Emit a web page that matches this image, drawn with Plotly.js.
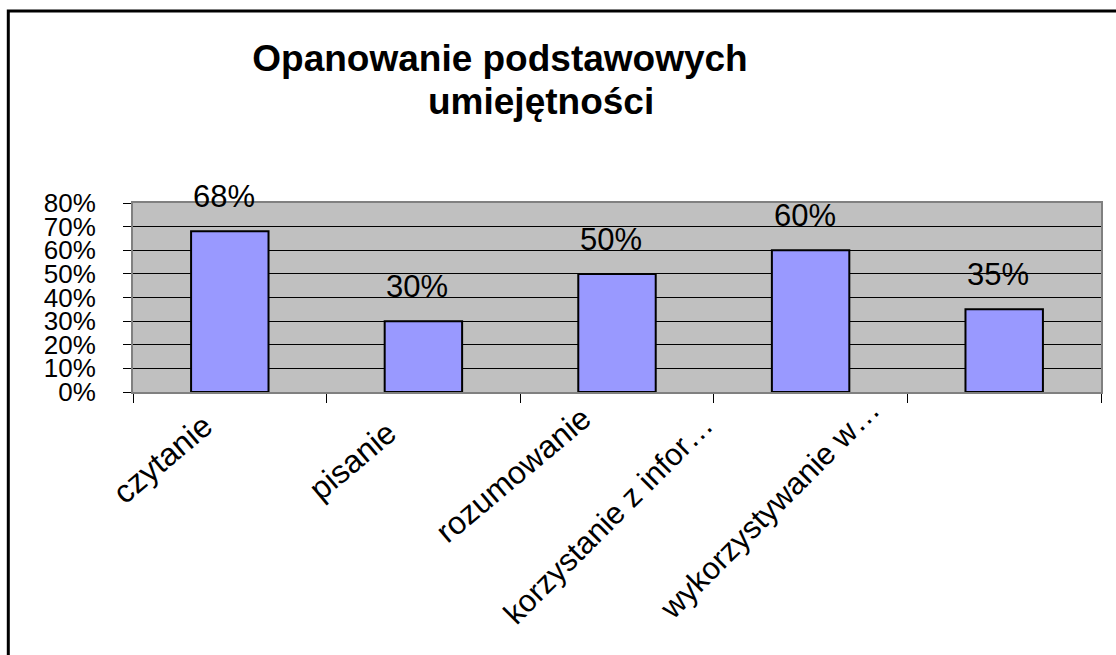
<!DOCTYPE html>
<html>
<head>
<meta charset="utf-8">
<script src="https://cdn.plot.ly/plotly-3.0.1.min.js"></script>
<style>
html,body{margin:0;padding:0;background:#fff;}
#chart{width:1116px;height:655px;}
</style>
</head>
<body>
<div id="chart"></div>
<script>
const categories = ["czytanie", "pisanie", "rozumowanie", "korzystanie z infor…", "wykorzystywanie w…"];
const values = [0.68, 0.30, 0.50, 0.60, 0.35];
const valueLabels = ["68%", "30%", "50%", "60%", "35%"];
const titleLine1 = "Opanowanie podstawowych";
const titleLine2 = "umiejętności";

const FONT = "Liberation Sans, Arial, sans-serif";

// placement of the rotated category labels (style, not data)
const labelShiftX = [-8, -18, -17, -88, -114];
const labelShiftY = [-13, -20, -5, -13, 3];
const labelAngle = [-40, -40, -40, -45, -45];
const labelSize = [32, 32, 32, 31, 31];

const trace = {
  type: "bar",
  x: categories,
  y: values,
  width: 0.4,
  marker: {color: "#9999FF", line: {color: "#000000", width: 2}},
  hoverinfo: "skip"
};

const dataAnnotations = categories.map((c, i) => ({
  x: c, y: values[i], xref: "x", yref: "y",
  text: valueLabels[i], showarrow: false,
  yanchor: "bottom", yshift: 15, xshift: -6,
  font: {family: FONT, size: 31, color: "#000"}
}));

const catAnnotations = categories.map((c, i) => ({
  x: c, y: 0, xref: "x", yref: "y",
  text: c, showarrow: false,
  textangle: labelAngle[i],
  xanchor: "right", yanchor: "top",
  xshift: labelShiftX[i], yshift: labelShiftY[i],
  font: {family: FONT, size: labelSize[i], color: "#000"}
}));

const layout = {
  width: 1116, height: 655,
  margin: {l: 133, r: 15, t: 203, b: 263},
  paper_bgcolor: "#ffffff",
  plot_bgcolor: "#C0C0C0",
  showlegend: false,
  font: {family: FONT, color: "#000"},
  title: {
    text: titleLine1,
    xref: "container", yref: "container",
    x: 500 / 1116, xanchor: "center",
    y: 1 - 58 / 655, yanchor: "middle",
    font: {family: FONT, size: 37, weight: "bold", color: "#000"}
  },
  xaxis: {
    type: "category",
    range: [-0.5, categories.length - 0.5],
    autorange: false,
    tickson: "boundaries",
    ticks: "outside", ticklen: 9, tickwidth: 1, tickcolor: "#000",
    showticklabels: false,
    showline: true, linecolor: "#808080", linewidth: 2, mirror: true,
    showgrid: false
  },
  yaxis: {
    range: [0, 0.8],
    autorange: false,
    dtick: 0.1,
    tickformat: ".0%",
    ticks: "outside", ticklen: 8, tickwidth: 1, tickcolor: "#000",
    ticklabelstandoff: 22,
    tickfont: {family: FONT, size: 26, color: "#000"},
    showline: true, linecolor: "#808080", linewidth: 2, mirror: true,
    showgrid: true, gridcolor: "#000000", gridwidth: 1,
    zeroline: false
  },
  annotations: [
    {
      xref: "paper", yref: "paper",
      x: (541 - 133) / 968, y: (392.3 - 102) / 189,
      xanchor: "center", yanchor: "middle",
      text: titleLine2, showarrow: false,
      font: {family: FONT, size: 37, weight: "bold", color: "#000"}
    }
  ].concat(dataAnnotations, catAnnotations),
  shapes: [
    {
      type: "rect", xref: "paper", yref: "paper",
      x0: (8.3 - 133) / 968, x1: 1.05,
      y0: -1.6, y1: (392.3 - 11.3) / 189,
      line: {color: "#000", width: 3}, fillcolor: "rgba(0,0,0,0)",
      layer: "above"
    }
  ]
};

Plotly.newPlot("chart", [trace], layout, {displayModeBar: false, staticPlot: true});
</script>
</body>
</html>
